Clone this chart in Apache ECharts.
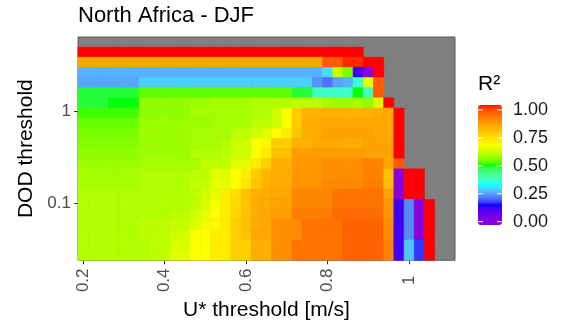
<!DOCTYPE html>
<html>
<head>
<meta charset="utf-8">
<script src="https://cdn.jsdelivr.net/npm/echarts@6/dist/echarts.min.js"></script>
<style>html,body{margin:0;padding:0;background:#fff}#main{width:564px;height:326px}</style>
</head>
<body>
<div id="main"></div>
<script>
// U* threshold (x) and DOD threshold (y, log spaced) of each tile
var uStar = [0.2, 0.225, 0.25, 0.275, 0.3, 0.325, 0.35, 0.375, 0.4, 0.425, 0.45, 0.475,
  0.5, 0.525, 0.55, 0.575, 0.6, 0.625, 0.65, 0.675, 0.7, 0.725, 0.75, 0.775,
  0.8, 0.825, 0.85, 0.875, 0.9, 0.925, 0.95, 0.975, 1.0, 1.025, 1.05, 1.075, 1.1];
var dod = [5.7081, 4.4230, 3.4277, 2.6564, 2.0580, 1.5946, 1.2355, 0.95719, 0.74164, 0.57464,
  0.44523, 0.34497, 0.26730, 0.20709, 0.16045, 0.12432, 0.09634, 0.07464, 0.05783,
  0.04481, 0.03472, 0.02690];
var xTicks = [0.2, 0.4, 0.6, 0.8, 1];
var yTicks = [0.1, 1];
var legendTicks = [1, 0.75, 0.5, 0.25, 0];
var NA = null;

// R2 per DOD row (top to bottom), one value per U* column
var r2Rows = [
  [NA,NA,NA,NA,NA,NA,NA,NA,NA,NA,NA,NA,NA,NA,NA,NA,NA,NA,NA,NA,NA,NA,NA,NA,NA,NA,NA,NA,NA,NA,NA,NA,NA,NA,NA,NA,NA],
  [1.045,1.045,1.045,1.045,1.045,1.045,1.045,1.045,1.045,1.045,1.045,1.045,1.045,1.045,1.045,1.045,1.045,1.045,1.045,1.045,1.045,1.045,1.045,1.045,1.045,1.045,1.045,1.045,NA,NA,NA,NA,NA,NA,NA,NA,NA],
  [0.865,0.865,0.865,0.865,0.865,0.865,0.865,0.865,0.865,0.865,0.865,0.865,0.865,0.865,0.865,0.865,0.865,0.865,0.865,0.865,0.865,0.865,0.865,0.865,0.982,0.982,1.03,1.03,1.045,1.045,NA,NA,NA,NA,NA,NA,NA],
  [0.265,0.265,0.265,0.265,0.265,0.265,0.265,0.265,0.265,0.265,0.265,0.265,0.265,0.265,0.265,0.265,0.265,0.265,0.265,0.265,0.265,0.265,0.265,0.265,0.30,0.62,0.55,0.12,0.0,1.045,NA,NA,NA,NA,NA,NA,NA],
  [0.255,0.255,0.255,0.255,0.255,0.255,0.29,0.29,0.29,0.29,0.29,0.29,0.29,0.29,0.29,0.29,0.29,0.29,0.29,0.29,0.29,0.29,0.29,0.24,0.21,0.25,0.265,0.37,0.66,0.982,NA,NA,NA,NA,NA,NA,NA],
  [0.49,0.49,0.49,0.49,0.49,0.49,0.535,0.535,0.535,0.535,0.535,0.535,0.535,0.535,0.535,0.535,0.535,0.535,0.535,0.535,0.535,0.49,0.49,0.38,0.38,0.38,0.38,0.505,0.39,0.982,NA,NA,NA,NA,NA,NA,NA],
  [0.49,0.49,0.49,0.505,0.505,0.505,0.57,0.57,0.57,0.57,0.57,0.58,0.58,0.59,0.59,0.59,0.59,0.60,0.60,0.60,0.60,0.61,0.61,0.61,0.59,0.58,0.58,0.59,0.57,0.64,1.045,NA,NA,NA,NA,NA,NA],
  [0.52,0.52,0.52,0.52,0.52,0.52,0.57,0.57,0.57,0.57,0.57,0.59,0.59,0.59,0.59,0.59,0.59,0.60,0.60,0.63,0.68,0.79,0.84,0.84,0.84,0.84,0.84,0.84,0.84,0.85,0.86,1.045,NA,NA,NA,NA,NA],
  [0.54,0.54,0.54,0.54,0.54,0.54,0.58,0.58,0.58,0.58,0.58,0.58,0.58,0.59,0.59,0.59,0.59,0.61,0.61,0.63,0.685,0.79,0.85,0.85,0.86,0.86,0.86,0.86,0.86,0.86,0.86,1.045,NA,NA,NA,NA,NA],
  [0.55,0.55,0.55,0.55,0.55,0.55,0.58,0.58,0.58,0.58,0.58,0.59,0.59,0.59,0.59,0.61,0.61,0.63,0.65,0.685,0.72,0.80,0.85,0.85,0.87,0.87,0.87,0.87,0.87,0.86,0.86,1.045,NA,NA,NA,NA,NA],
  [0.56,0.56,0.56,0.56,0.56,0.56,0.58,0.58,0.58,0.58,0.58,0.59,0.59,0.59,0.60,0.63,0.63,0.685,0.70,0.79,0.79,0.84,0.84,0.86,0.86,0.86,0.85,0.85,0.87,0.87,0.87,1.045,NA,NA,NA,NA,NA],
  [0.57,0.57,0.57,0.57,0.57,0.57,0.58,0.58,0.58,0.58,0.58,0.60,0.60,0.60,0.61,0.63,0.63,0.685,0.72,0.81,0.81,0.88,0.88,0.88,0.88,0.88,0.88,0.88,0.87,0.87,0.87,1.045,NA,NA,NA,NA,NA],
  [0.58,0.58,0.58,0.58,0.58,0.58,0.59,0.59,0.59,0.59,0.59,0.59,0.61,0.61,0.61,0.65,0.65,0.72,0.78,0.845,0.845,0.888,0.888,0.888,0.904,0.904,0.904,0.904,0.925,0.925,0.87,0.982,NA,NA,NA,NA,NA],
  [0.59,0.59,0.59,0.59,0.59,0.59,0.60,0.60,0.60,0.60,0.60,0.61,0.61,0.65,0.65,0.685,0.72,0.79,0.83,0.85,0.85,0.888,0.888,0.888,0.904,0.904,0.904,0.904,0.925,0.925,0.81,0.0,1.045,1.045,NA,NA,NA],
  [0.59,0.59,0.59,0.59,0.59,0.59,0.60,0.60,0.60,0.60,0.60,0.62,0.62,0.66,0.66,0.69,0.74,0.80,0.84,0.855,0.855,0.895,0.895,0.895,0.912,0.912,0.912,0.912,0.932,0.932,0.82,0.0,1.045,1.045,NA,NA,NA],
  [0.60,0.60,0.60,0.60,0.60,0.60,0.60,0.60,0.60,0.60,0.60,0.61,0.63,0.66,0.72,0.755,0.81,0.845,0.85,0.86,0.86,0.918,0.918,0.918,0.918,0.948,0.948,0.948,0.948,0.948,0.87,0.0,1.045,1.045,NA,NA,NA],
  [0.60,0.60,0.60,0.60,0.60,0.60,0.60,0.60,0.60,0.60,0.60,0.61,0.64,0.68,0.72,0.76,0.81,0.85,0.86,0.87,0.87,0.918,0.918,0.918,0.918,0.948,0.948,0.948,0.948,0.948,0.888,0.12,0.23,0.0,1.045,NA,NA],
  [0.60,0.60,0.60,0.60,0.60,0.60,0.60,0.60,0.60,0.61,0.61,0.63,0.66,0.69,0.72,0.77,0.81,0.85,0.86,0.88,0.88,0.932,0.932,0.932,0.932,0.96,0.96,0.96,0.96,0.96,0.888,0.12,0.23,0.0,1.045,NA,NA],
  [0.60,0.60,0.60,0.60,0.60,0.60,0.61,0.61,0.61,0.62,0.62,0.64,0.67,0.70,0.72,0.78,0.81,0.85,0.86,0.904,0.904,0.904,0.948,0.948,0.948,0.948,0.971,0.971,0.971,0.971,0.904,0.12,0.23,0.0,1.045,NA,NA],
  [0.60,0.60,0.60,0.60,0.60,0.60,0.61,0.61,0.61,0.63,0.63,0.685,0.685,0.72,0.72,0.78,0.81,0.86,0.86,0.904,0.904,0.904,0.948,0.948,0.948,0.948,0.971,0.971,0.971,0.971,0.904,0.12,0.23,0.0,1.045,NA,NA],
  [0.60,0.60,0.60,0.60,0.60,0.60,0.60,0.61,0.61,0.64,0.64,0.685,0.685,0.72,0.72,0.78,0.78,0.845,0.845,0.904,0.904,0.948,0.948,0.948,0.948,0.948,0.971,0.971,0.971,0.971,0.918,0.12,0.28,0.17,1.045,NA,NA],
  [0.60,0.60,0.60,0.60,0.60,0.60,0.60,0.61,0.61,0.65,0.65,0.685,0.685,0.72,0.72,0.78,0.78,0.845,0.845,0.904,0.904,0.948,0.948,0.948,0.948,0.948,0.971,0.971,0.971,0.971,0.918,0.12,0.28,0.17,1.045,NA,NA]
];

var anchors = ['#9400D3', '#0000FF', '#00FFFF', '#00FF00', '#FFFF00', '#FFA500', '#FF0000'];
var fillMin = -0.03, fillMax = 1.045;

// ggplot blends gradient colours in Lab space, so build the stops that way
function toLab(hex) {
  var lin = [1, 3, 5].map(function (k) {
    var c = parseInt(hex.substr(k, 2), 16) / 255;
    return c <= 0.04045 ? c / 12.92 : Math.pow((c + 0.055) / 1.055, 2.4);
  });
  var X = (0.4124 * lin[0] + 0.3576 * lin[1] + 0.1805 * lin[2]) / 0.95047;
  var Y = 0.2126 * lin[0] + 0.7152 * lin[1] + 0.0722 * lin[2];
  var Z = (0.0193 * lin[0] + 0.1192 * lin[1] + 0.9505 * lin[2]) / 1.08883;
  var f = function (t) { return t > 0.008856 ? Math.cbrt(t) : 7.787 * t + 16 / 116; };
  return [116 * f(Y) - 16, 500 * (f(X) - f(Y)), 200 * (f(Y) - f(Z))];
}
function fromLab(L, a, b) {
  var fy = (L + 16) / 116, fx = fy + a / 500, fz = fy - b / 200;
  var inv = function (t) { return t * t * t > 0.008856 ? t * t * t : (t - 16 / 116) / 7.787; };
  var X = 0.95047 * inv(fx), Y = inv(fy), Z = 1.08883 * inv(fz);
  var rgb = [3.2406 * X - 1.5372 * Y - 0.4986 * Z, -0.9689 * X + 1.8758 * Y + 0.0415 * Z, 0.0557 * X - 0.2040 * Y + 1.0570 * Z];
  return '#' + rgb.map(function (c) {
    c = c <= 0.0031308 ? 12.92 * c : 1.055 * Math.pow(c, 1 / 2.4) - 0.055;
    var v = Math.round(Math.max(0, Math.min(1, c)) * 255);
    return (v < 16 ? '0' : '') + v.toString(16);
  }).join('');
}
var labs = anchors.map(toLab);
var palette = [];
for (var k = 0; k <= 96; k++) {
  var t = k / 96 * (labs.length - 1), s = Math.min(Math.floor(t), labs.length - 2), u = t - s;
  palette.push(fromLab(
    labs[s][0] + (labs[s + 1][0] - labs[s][0]) * u,
    labs[s][1] + (labs[s + 1][1] - labs[s][1]) * u,
    labs[s][2] + (labs[s + 1][2] - labs[s][2]) * u));
}

var cells = [];
r2Rows.forEach(function (row, j) {
  row.forEach(function (v, i) {
    if (v !== null) cells.push([uStar[i], dod[j], v]);
  });
});

var halfW = (uStar[1] - uStar[0]) / 2;
var halfStep = Math.sqrt(dod[0] / dod[1]);

// colourbar geometry
var barLeft = 478, barTop = 105, barW = 24, barH = 120;
function barY(v) { return barTop + (fillMax - v) / (fillMax - fillMin) * barH; }

var graphics = [{
  type: 'text', left: barLeft, top: 74,
  style: { text: 'R²', font: '21px "Liberation Sans"', fill: '#000' }
}];
legendTicks.forEach(function (v) {
  var y = barY(v);
  graphics.push({
    type: 'text', x: 513, y: y, z: 100,
    style: { text: v.toFixed(2), font: '18px "Liberation Sans"', fill: '#1a1a1a', verticalAlign: 'middle' }
  });
  graphics.push({ type: 'line', z: 100, shape: { x1: barLeft, y1: y, x2: barLeft + 5, y2: y }, style: { stroke: '#fff', lineWidth: 1 } });
  graphics.push({ type: 'line', z: 100, shape: { x1: barLeft + barW - 5, y1: y, x2: barLeft + barW, y2: y }, style: { stroke: '#fff', lineWidth: 1 } });
});

var chart = echarts.init(document.getElementById('main'));
chart.setOption({
  animation: false,
  backgroundColor: '#fff',
  textStyle: { fontFamily: 'Liberation Sans' },
  title: {
    text: 'North Africa - DJF', left: 78, top: 5, padding: 0,
    textStyle: { fontSize: 22, fontWeight: 'normal', color: '#000', fontFamily: 'Liberation Sans' }
  },
  grid: {
    left: 78, right: 109, top: 37, bottom: 65,
    show: true, backgroundColor: '#7F7F7F', borderColor: '#5c5c5c', borderWidth: 1
  },
  xAxis: {
    type: 'value',
    min: uStar[0] - halfW, max: uStar[uStar.length - 1] + halfW,
    name: 'U* threshold [m/s]', nameLocation: 'middle', nameGap: 38,
    nameTextStyle: { fontSize: 21, color: '#000' },
    axisLine: { show: false },
    splitLine: { show: false },
    axisTick: { show: true, length: 4, lineStyle: { color: '#333' }, customValues: xTicks },
    axisLabel: {
      customValues: xTicks, rotate: 90, align: 'center', verticalAlign: 'middle', margin: 20,
      fontSize: 17, color: '#4d4d4d', formatter: function (v) { return String(v); }
    }
  },
  yAxis: {
    type: 'log',
    min: dod[dod.length - 1] / halfStep, max: dod[0] * halfStep,
    name: 'DOD threshold', nameLocation: 'middle', nameGap: 41,
    nameTextStyle: { fontSize: 21, color: '#000' },
    axisLine: { show: false },
    splitLine: { show: false },
    axisTick: { show: true, length: 4, lineStyle: { color: '#333' }, customValues: yTicks },
    axisLabel: {
      customValues: yTicks, margin: 7, fontSize: 17, color: '#4d4d4d',
      formatter: function (v) { return String(v); }
    }
  },
  visualMap: {
    type: 'continuous', dimension: 2, seriesIndex: 0,
    min: fillMin, max: fillMax, calculable: false,
    left: barLeft, top: barTop, itemWidth: barW, itemHeight: barH, padding: 0,
    text: null, showLabel: false,
    inRange: { color: palette }
  },
  graphic: graphics,
  series: [{
    type: 'custom',
    data: cells,
    encode: { x: 0, y: 1 },
    renderItem: function (params, api) {
      var x = api.value(0), y = api.value(1);
      var p0 = api.coord([x - halfW, y * halfStep]);
      var p1 = api.coord([x + halfW, y / halfStep]);
      var c = api.visual('color');
      return {
        type: 'rect',
        shape: { x: p0[0], y: p0[1], width: p1[0] - p0[0], height: p1[1] - p0[1] },
        style: { fill: c, stroke: c, lineWidth: 0.6 }
      };
    }
  }]
});
</script>
</body>
</html>
